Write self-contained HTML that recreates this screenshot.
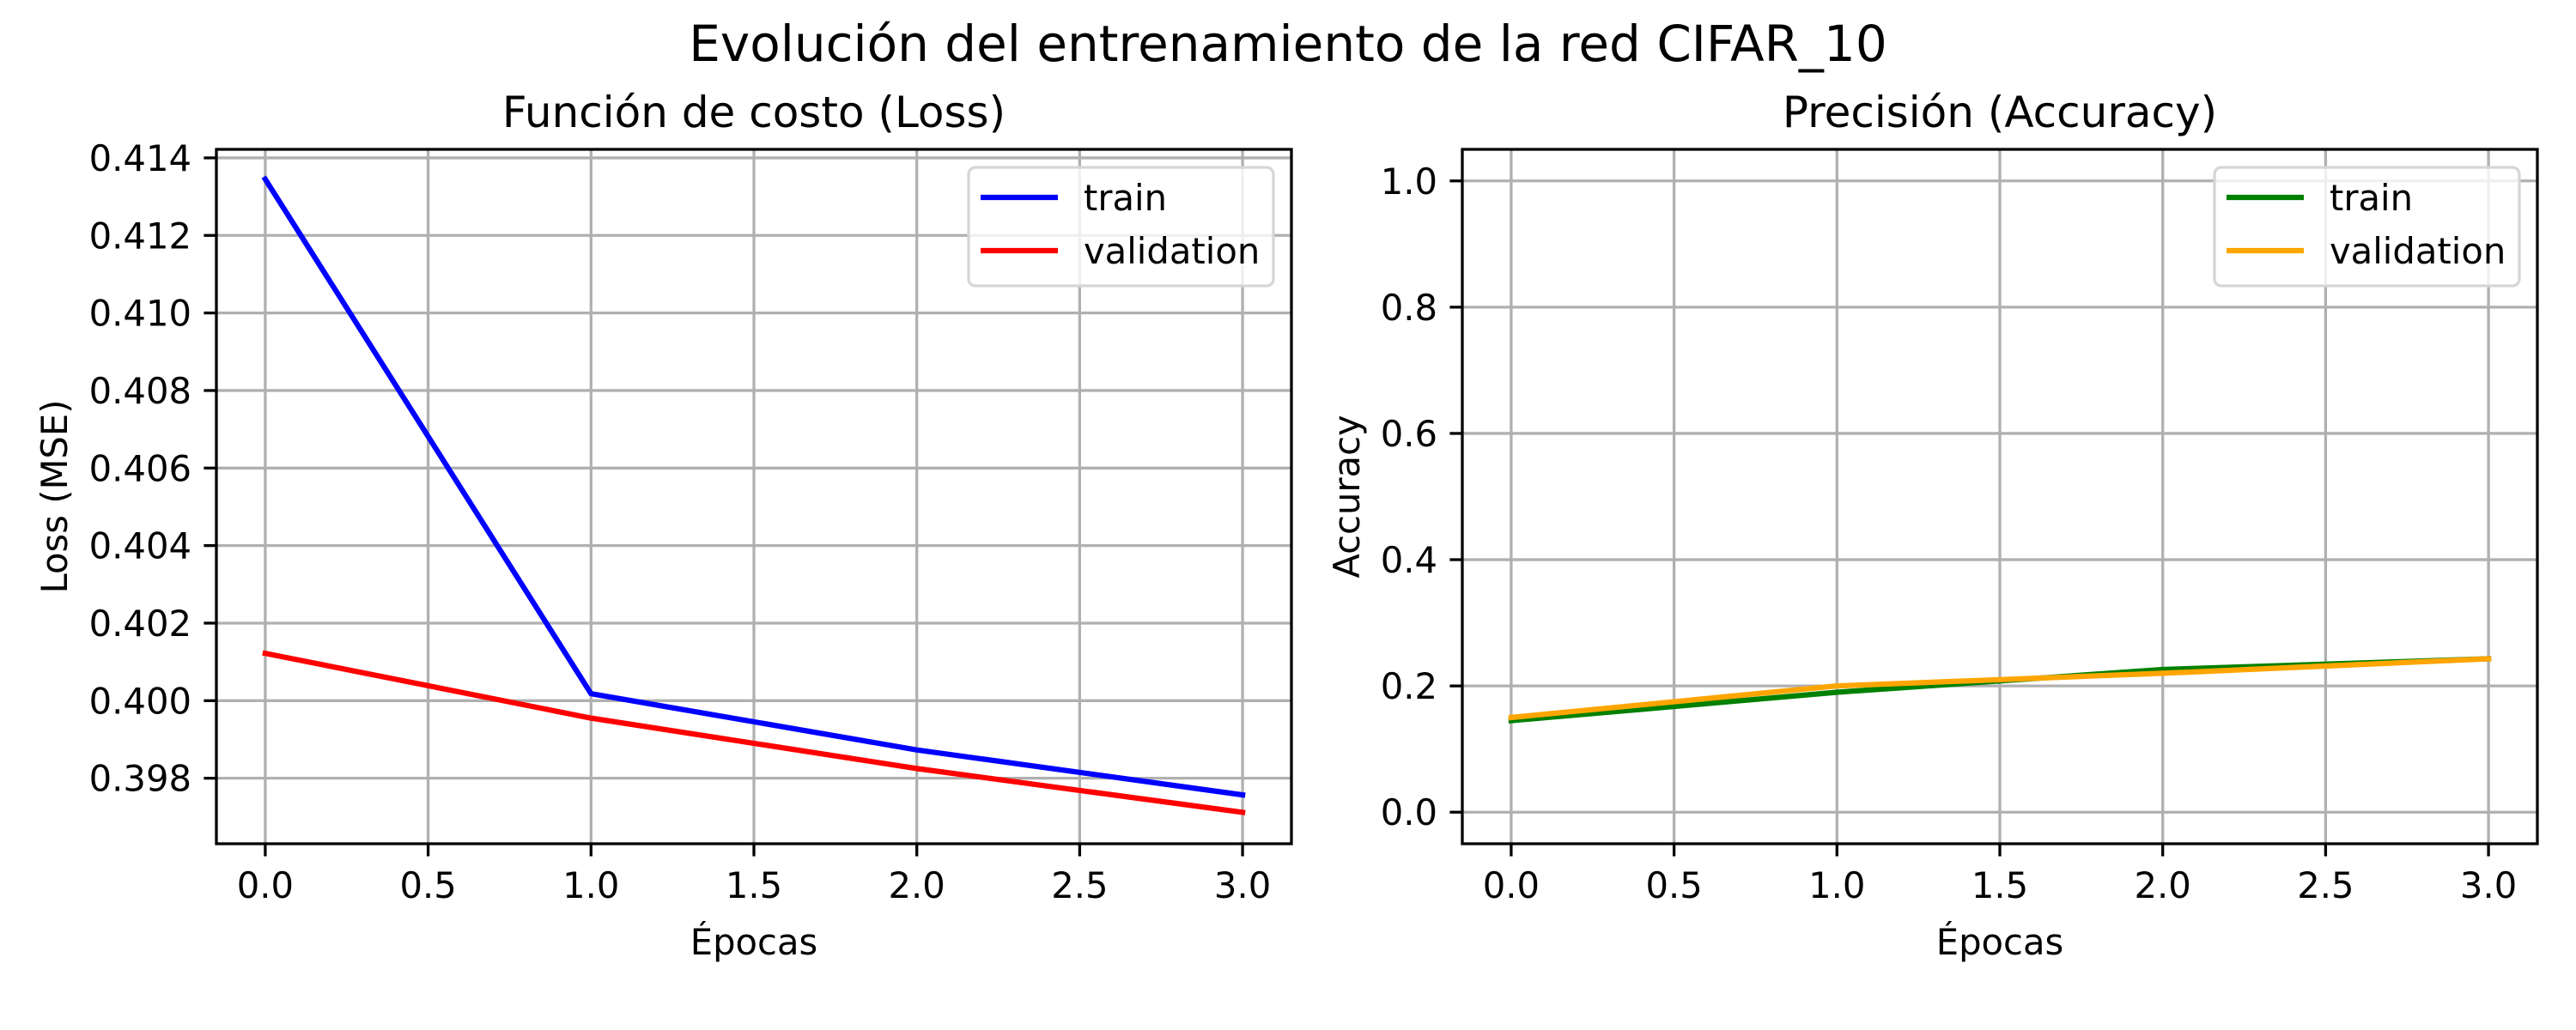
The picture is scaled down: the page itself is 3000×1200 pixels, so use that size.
<!DOCTYPE html>
<html><head><meta charset="utf-8">
<style>
html,body{margin:0;padding:0;background:#fff;}
svg{display:block;font-family:"DejaVu Sans","Liberation Sans",sans-serif;}
</style></head>
<body>
<svg id="fig" xmlns="http://www.w3.org/2000/svg" width="3000" height="1200" viewBox="0 0 3000 1200">
<rect width="3000" height="1200" fill="#fff"/>
<text x="1500" y="71" font-size="58" text-anchor="middle">Evolución del entrenamiento de la red CIFAR_10</text>
<g id="lossChart"></g>
<g id="accChart"></g>
</svg>
<script>
const epochs = [0, 1, 2, 3];
const lossTrain = [0.41345, 0.40018, 0.39873, 0.39757];
const lossVal = [0.40122, 0.39955, 0.39825, 0.39712];
const accTrain = [0.145, 0.190, 0.226, 0.243];
const accVal = [0.150, 0.200, 0.220, 0.243];
const xTicks = [0, 0.5, 1, 1.5, 2, 2.5, 3];
const xTickLabels = ["0.0","0.5","1.0","1.5","2.0","2.5","3.0"];
const lossTicks = [0.398, 0.400, 0.402, 0.404, 0.406, 0.408, 0.410, 0.412, 0.414];
const lossTickLabels = ["0.398","0.400","0.402","0.404","0.406","0.408","0.410","0.412","0.414"];
const accTicks = [0, 0.2, 0.4, 0.6, 0.8, 1.0];
const accTickLabels = ["0.0","0.2","0.4","0.6","0.8","1.0"];

const NS = "http://www.w3.org/2000/svg";
function mk(parent, tag, attrs, text){
  const e = document.createElementNS(NS, tag);
  for (const k in attrs) e.setAttribute(k, attrs[k]);
  if (text !== undefined) e.textContent = text;
  parent.appendChild(e);
  return e;
}

function drawChart(g, cfg){
  const L = cfg.left, R = cfg.left + 1252, T = 174, B = 983;
  const xmin = -0.15, xmax = 3.15;
  const sx = v => L + (v - xmin) / (xmax - xmin) * (R - L);
  const sy = v => B - (v - cfg.ymin) / (cfg.ymax - cfg.ymin) * (B - T);
  // grid
  cfg.xTicks.forEach((t, i) => {
    const l = mk(g, "line", {x1: sx(t), x2: sx(t), y1: T, y2: B, stroke: "#b0b0b0", "stroke-width": 3.3});
    
    
  });
  cfg.yTicks.forEach((t, i) => {
    const l = mk(g, "line", {x1: L, x2: R, y1: sy(t), y2: sy(t), stroke: "#b0b0b0", "stroke-width": 3.3});
    
    
  });
  // series
  cfg.series.forEach(s => {
    const pts = epochs.map((e, i) => sx(e) + "," + sy(s.values[i])).join(" ");
    const p = mk(g, "polyline", {points: pts, fill: "none", stroke: s.color, "stroke-width": 6.25, "stroke-linejoin": "round", "stroke-linecap": "square"});
    
    
  });
  // spines
  const sp = mk(g, "rect", {x: L, y: T, width: R - L, height: B - T, fill: "none", stroke: "#000", "stroke-width": 3.3});
  
  
  // x ticks
  cfg.xTicks.forEach((t, i) => {
    const tk = mk(g, "line", {x1: sx(t), x2: sx(t), y1: B, y2: B + 14.6, stroke: "#000", "stroke-width": 3.3});
    
    
    const tl = mk(g, "text", {x: sx(t), y: 1046, "font-size": 41.7, "text-anchor": "middle"}, cfg.xLabels[i]);
    
    
  });
  cfg.yTicks.forEach((t, i) => {
    const tk = mk(g, "line", {x1: L - 14.6, x2: L, y1: sy(t), y2: sy(t), stroke: "#000", "stroke-width": 3.3});
    
    
    const tl = mk(g, "text", {x: L - 29, y: sy(t) + 15, "font-size": 41.7, "text-anchor": "end"}, cfg.yLabels[i]);
    
    
  });
  const xt = mk(g, "text", {x: (L + R) / 2, y: 1112, "font-size": 41.7, "text-anchor": "middle"}, "Épocas");
  
  
  const yt = mk(g, "text", {x: 0, y: 0, "font-size": 41.7, "text-anchor": "middle", transform: "translate(" + cfg.yTitleX + "," + ((T + B) / 2) + ") rotate(-90)"}, cfg.yTitle);
  
  
  const tt = mk(g, "text", {x: (L + R) / 2, y: 148, "font-size": 50, "text-anchor": "middle"}, cfg.title);
  
  
  // legend
  const lx = R - 376;
  const lg = mk(g, "g", {});
  
  
  mk(lg, "rect", {x: lx, y: 195, width: 355, height: 138, rx: 8, fill: "rgba(255,255,255,0.8)", stroke: "#d6d6d6", "stroke-width": 3.3});
  cfg.series.forEach((s, i) => {
    const y = 230 + i * 62;
    const en = mk(lg, "g", {});
    
    
    mk(en, "line", {x1: lx + 14, x2: lx + 104, y1: y, y2: y, stroke: s.color, "stroke-width": 6.25});
    mk(en, "text", {x: lx + 134, y: y + 15, "font-size": 41.7}, s.label);
  });
}

drawChart(document.getElementById("lossChart"), {
  left: 252, ymin: 0.39631, ymax: 0.41422,
  xTicks: xTicks, xLabels: xTickLabels, yTicks: lossTicks, yLabels: lossTickLabels,
  title: "Función de costo (Loss)", yTitle: "Loss (MSE)", yTitleX: 78,
  series: [
    {name: "loss-train-line", label: "train", color: "#0000ff", values: lossTrain},
    {name: "loss-validation-line", label: "validation", color: "#ff0000", values: lossVal}
  ]
});
drawChart(document.getElementById("accChart"), {
  left: 1703, ymin: -0.05, ymax: 1.05,
  xTicks: xTicks, xLabels: xTickLabels, yTicks: accTicks, yLabels: accTickLabels,
  title: "Precisión (Accuracy)", yTitle: "Accuracy", yTitleX: 1583,
  series: [
    {name: "accuracy-train-line", label: "train", color: "#008000", values: accTrain},
    {name: "accuracy-validation-line", label: "validation", color: "#ffa500", values: accVal}
  ]
});
</script>
</body></html>
